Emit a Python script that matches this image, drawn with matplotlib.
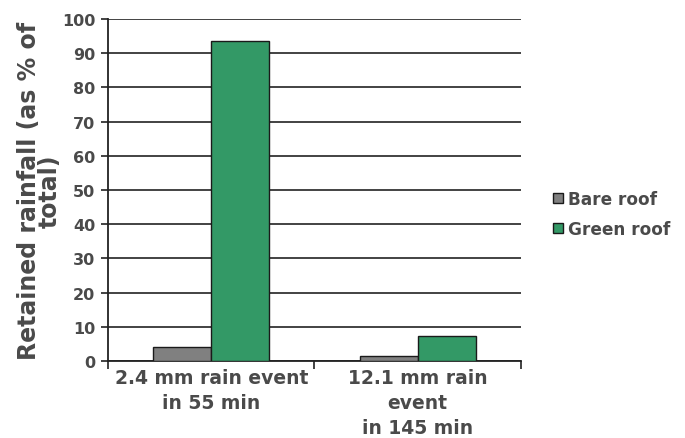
import numpy as np
import matplotlib
matplotlib.use("Agg")
from matplotlib import pyplot as plt

categories = ["2.4 mm rain event\nin 55 min", "12.1 mm rain\nevent\nin 145 min"]
bare_roof = [4.0, 1.4]
green_roof = [93.7, 7.2]
series_names = ["Bare roof", "Green roof"]

txt = "#4a4a4a"
plt.rcParams['font.family'] = ['DejaVu Sans']
plt.rcParams['font.weight'] = 'bold'

fig = plt.figure(figsize=(6.85, 4.39), dpi=100)
ax = fig.add_axes([108/685, 1-362/439, 413/685, 342/439])

x = np.arange(len(categories))
w = 0.28
ax.bar(x - w/2, bare_roof, w, color="#808080", edgecolor="#1a1a1a", linewidth=1, label=series_names[0], zorder=3)
ax.bar(x + w/2, green_roof, w, color="#339966", edgecolor="#1a1a1a", linewidth=1, label=series_names[1], zorder=3)

ax.set_xlim(-0.5, 1.5)
ax.set_ylim(0, 100)
ax.set_yticks(np.arange(0, 101, 10))
ax.set_yticklabels([str(v) for v in range(0, 101, 10)], fontweight='bold')
ax.yaxis.grid(True, color="#222222", linewidth=1.2, zorder=0)
ax.tick_params(axis='y', labelsize=11.5, labelcolor=txt, length=5, width=1.2, color="#222222", pad=4)
for s in ["top", "right"]:
    ax.spines[s].set_visible(False)
for s in ["left", "bottom"]:
    ax.spines[s].set_linewidth(1.3)
    ax.spines[s].set_color("#222222")

ax.set_xticks([-0.5, 0.5, 1.5])
ax.set_xticklabels([])
ax.tick_params(axis='x', which='major', length=6, width=1.2, color="#222222")
ax.set_xticks(x, minor=True)
ax.set_xticklabels(categories, minor=True, fontsize=13.5, color=txt, linespacing=1.4, fontweight='bold')
ax.tick_params(axis='x', which='minor', length=0, pad=5)

ax.set_ylabel("Retained rainfall (as % of\ntotal)", fontsize=17, color=txt, labelpad=0,
              linespacing=0.85, fontweight='bold')

fig.legend(loc="center left", bbox_to_anchor=(538/685, 1-215/439), frameon=False,
           labelcolor=txt, handlelength=0.6, handleheight=0.6,
           handletextpad=0.25, labelspacing=0.7, prop={'weight': 'bold', 'size': 12.2})

fig.savefig("out.png", dpi=100)
